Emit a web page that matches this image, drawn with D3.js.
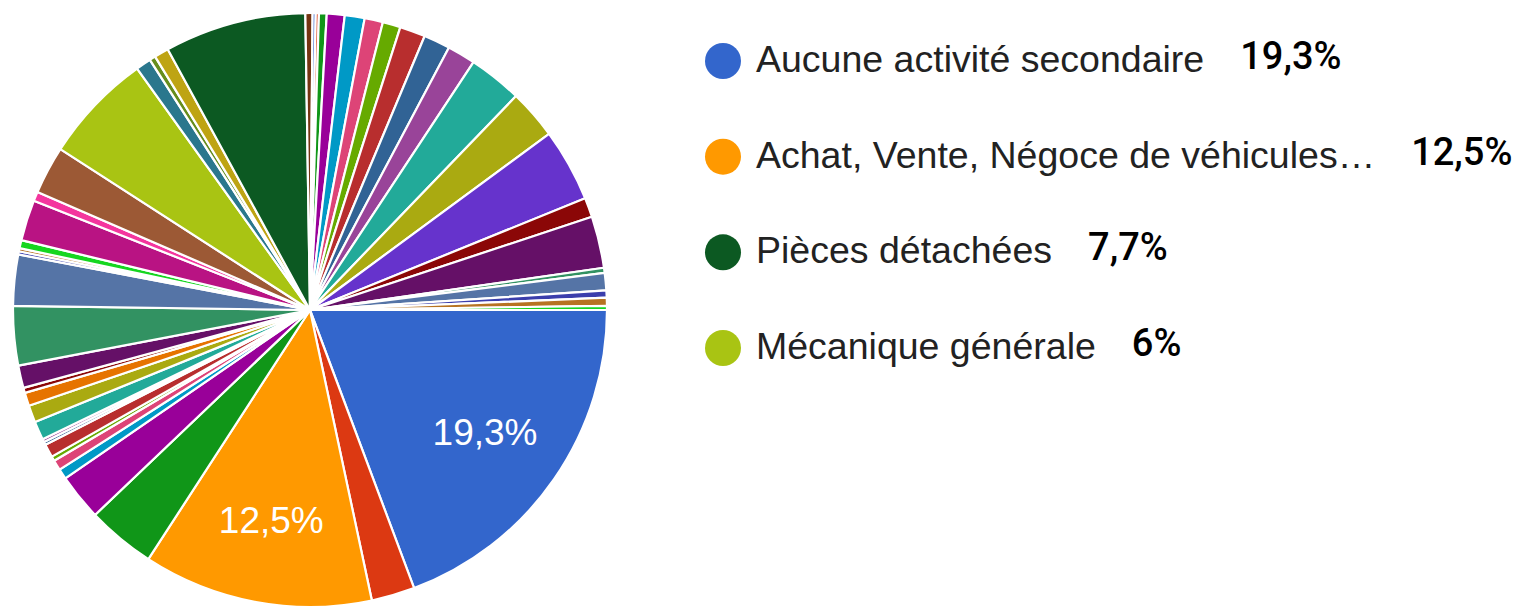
<!DOCTYPE html>
<html>
<head>
<meta charset="utf-8">
<script src="https://cdn.jsdelivr.net/npm/d3@7"></script>
<style>
  html, body { margin: 0; padding: 0; background: #ffffff; }
  #chart { width: 1517px; height: 607px; }
</style>
</head>
<body>
<div id="chart"></div>
<script>
// share of each answer in %, clockwise from 3 o'clock
var sliceValues = [19.3, 2.36, 12.5, 3.72, 2.53, 0.56, 0.56, 0.25, 0.72, 0.17,
                   0.17, 1.0, 0.94, 0.72, 0.28, 1.22, 3.22, 2.78, 0.17, 0.17,
                   0.44, 2.22, 0.5, 2.61, 6.0, 0.83, 0.33, 0.78, 7.7, 0.39,
                   0.17, 0.17, 0.42, 0.97, 1.08, 1.0, 0.97, 1.39, 1.44, 1.53,
                   2.92, 2.69, 3.97, 1.06, 2.81, 0.28, 0.94, 0.39, 0.44, 0.22];
var sliceColors = ["#3366cc", "#dc3912", "#ff9900", "#109618", "#990099", "#0099c6", "#dd4477", "#66aa00", "#b82e2e", "#316395",
                   "#994499", "#22aa99", "#aaaa11", "#e67300", "#8b0707", "#651067", "#329262", "#5574a6", "#3b3eac", "#b77322",
                   "#16d620", "#b91383", "#f4359e", "#9c5935", "#a9c413", "#2a778d", "#668d1c", "#bea413", "#0c5922", "#743411",
                   "#3366cc", "#dc3912", "#109618", "#990099", "#0099c6", "#dd4477", "#66aa00", "#b82e2e", "#316395", "#994499",
                   "#22aa99", "#aaaa11", "#6633cc", "#8b0707", "#651067", "#329262", "#5574a6", "#3b3eac", "#b77322", "#16d620"];
// legend rows and the slice they point at
var legendNames = ["Aucune activité secondaire", "Achat, Vente, Négoce de véhicules…", "Pièces détachées", "Mécanique générale"];
var legendSlice = [0, 2, 28, 24];

function frPercent(v) {
  return (Math.round(v * 10) / 10).toString().replace(".", ",") + "%";
}

function createPieChart(divId) {
  var width = 1517;
  var height = 607;
  var cx = 310, cy = 310, radius = 297;

  // 1. svg
  var svg = d3.select("#" + divId).append("svg")
    .attr("width", width)
    .attr("height", height);

  // 2. pie layout, starting at 3 o'clock
  var pie = d3.pie()
    .sort(null)
    .startAngle(Math.PI / 2)
    .endAngle(Math.PI / 2 + 2 * Math.PI)
    .value(function (d) { return d; });
  var arcs = pie(sliceValues);

  var arc = d3.arc().innerRadius(0).outerRadius(radius);
  var labelArc = d3.arc().innerRadius(213).outerRadius(213);

  var g = svg.append("g").attr("transform", "translate(" + cx + "," + cy + ")");

  // 3. slices
  g.selectAll("path").data(arcs)
    .enter().append("path")
    .attr("d", arc)
    .attr("fill", function (d, i) { return sliceColors[i]; })
    .attr("stroke", "#ffffff")
    .attr("stroke-width", 2.2)
    .attr("stroke-linejoin", "round");

  // 4. percentage labels on the big slices
  g.selectAll("text").data(arcs.filter(function (d) { return d.value >= 10; }))
    .enter().append("text")
    .attr("transform", function (d) { return "translate(" + labelArc.centroid(d) + ")"; })
    .attr("text-anchor", "middle")
    .attr("dy", "0.36em")
    .attr("fill", "#ffffff")
    .style("font-family", "'Liberation Sans', Arial, sans-serif")
    .style("font-size", "37px")
    .text(function (d) { return frPercent(d.value); });

  // 5. legend
  var legend = svg.append("g");
  var rowY = d3.scalePoint().domain(d3.range(legendNames.length)).range([61, 348]);

  legendNames.forEach(function (name, i) {
    var y = rowY(i);
    var row = legend.append("g");
    row.append("circle")
      .attr("cx", 723)
      .attr("cy", y)
      .attr("r", 18)
      .attr("fill", sliceColors[legendSlice[i]]);
    var label = row.append("text")
      .attr("x", 756)
      .attr("y", y + 11)
      .attr("fill", "#222222")
      .style("font-family", "'Liberation Sans', Arial, sans-serif")
      .style("font-size", "37.5px")
      .text(name);
    var w = label.node().getComputedTextLength();
    row.append("text")
      .attr("x", 756 + w + 36)
      .attr("y", y + 8)
      .attr("fill", "#000000")
      .style("font-family", "Roboto, sans-serif")
      .style("font-weight", 500)
      .style("font-size", "38px")
      .text(frPercent(sliceValues[legendSlice[i]]));
  });
}

createPieChart("chart");
</script>
</body>
</html>
